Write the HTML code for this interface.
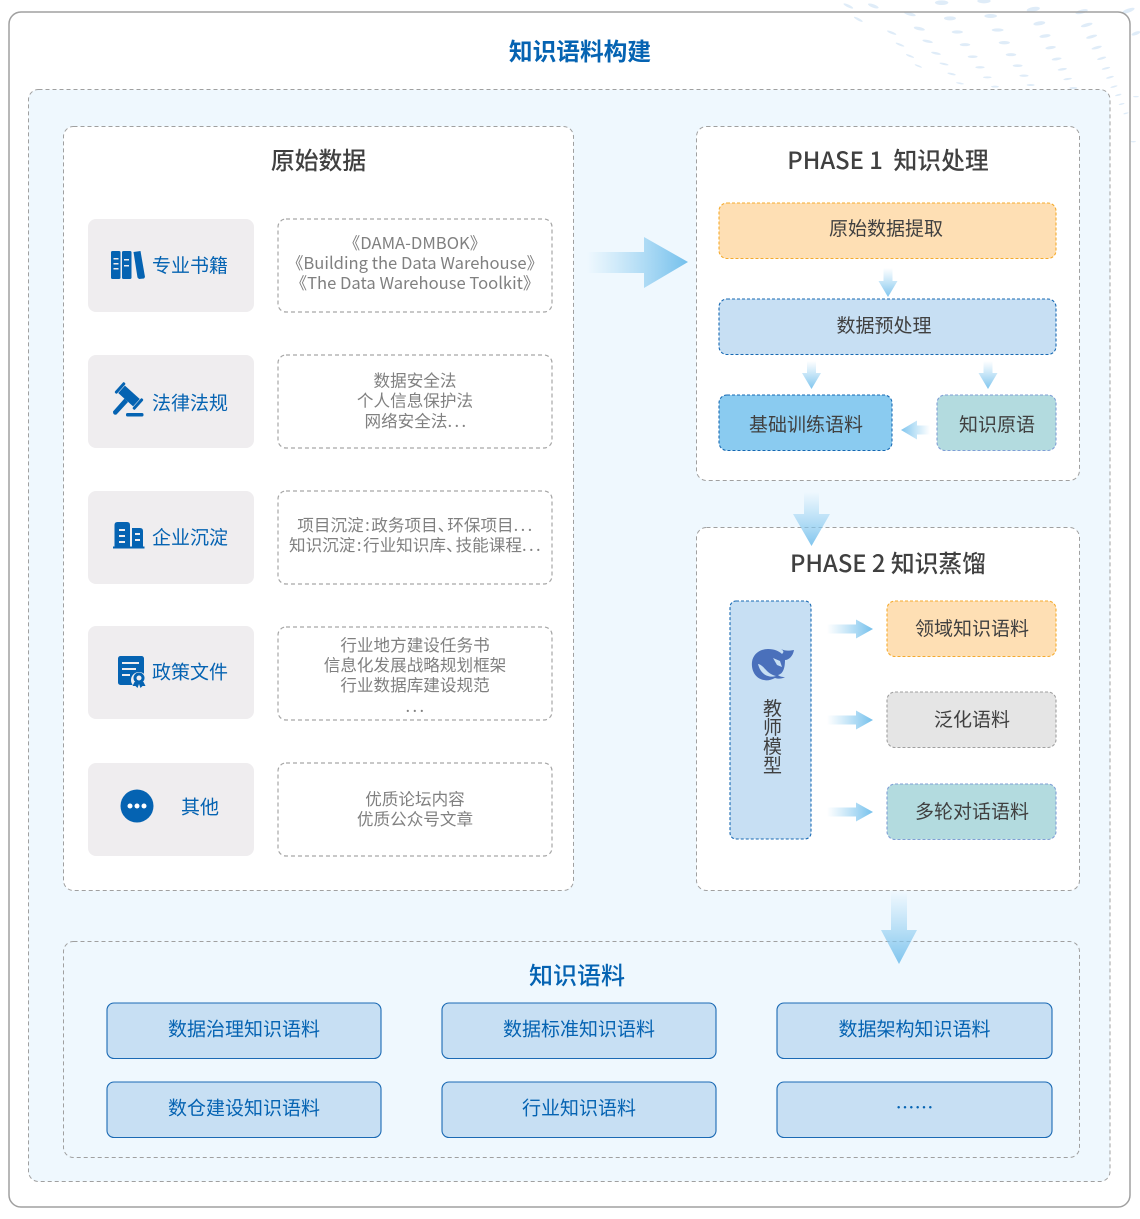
<!DOCTYPE html>
<html lang="zh"><head><meta charset="utf-8"><title>知识语料构建</title>
<style>html,body{margin:0;padding:0;background:#fff}svg{display:block}
svg text{font-family:"Noto Sans CJK SC","Liberation Sans",sans-serif;text-anchor:middle}
.t{font-size:23.8px;fill:#404040;font-weight:500}.b{font-size:19px;fill:#404040}.l{font-size:19px;fill:#0563b2}.d{font-size:16.6px;fill:#808080}
.pd{fill:#fff;stroke:#a0a0a0;stroke-width:1;stroke-dasharray:4 3}
.g{fill:#efedef}.dd{fill:#fff;stroke:#a6a6a6;stroke-width:1.2;stroke-dasharray:4 3}
.o{fill:#fedfb4;stroke:#f5ab2e;stroke-width:1.1;stroke-dasharray:3 2}
.bl{fill:#c7dff3;stroke:#1769b3;stroke-width:1.1;stroke-dasharray:3 2}
.sk{fill:#8acbf0;stroke:#1769b3;stroke-width:1.1;stroke-dasharray:3 2}
.te{fill:#b3dbdf;stroke:#7f9fd6;stroke-width:1.1;stroke-dasharray:3 2}
.gr{fill:#e5e5e5;stroke:#a0a0a0;stroke-width:1.1;stroke-dasharray:3 2}
.s{fill:#c7dff3;stroke:#1b6ab4;stroke-width:1.1}
.dot ellipse{fill:#dfecf8}
.e{letter-spacing:2.4px}
</style></head><body>
<svg width="1140" height="1219" viewBox="0 0 1140 1219" xmlns="http://www.w3.org/2000/svg">
<defs>
<linearGradient id="h" x1="0" x2="1" y1="0" y2="0"><stop offset="0" stop-color="#8acbf0" stop-opacity="0"/><stop offset="1" stop-color="#74c0ec"/></linearGradient>
<linearGradient id="hl" x1="1" x2="0" y1="0" y2="0"><stop offset="0" stop-color="#8acbf0" stop-opacity="0"/><stop offset="1" stop-color="#80c5ee"/></linearGradient>
<linearGradient id="v" x1="0" x2="0" y1="0" y2="1"><stop offset="0" stop-color="#8acbf0" stop-opacity="0"/><stop offset="1" stop-color="#80c5ee"/></linearGradient>
</defs>
<rect width="1140" height="1219" fill="#fff"/>
<g class="dot" transform="translate(760,0) scale(.3333)">
<ellipse cx="545" cy="8" rx="20" ry="7"/><ellipse cx="672" cy="3" rx="20" ry="7"/><ellipse cx="820" cy="28" rx="20" ry="7" transform="rotate(-10 820 28)"/><ellipse cx="340" cy="18" rx="17" ry="5" transform="rotate(20 340 18)"/><ellipse cx="265" cy="18" rx="16" ry="4" transform="rotate(25 265 18)"/><ellipse cx="450" cy="42" rx="18" ry="5" transform="rotate(15 450 42)"/><ellipse cx="570" cy="55" rx="18" ry="6"/><ellipse cx="692" cy="48" rx="19" ry="6"/><ellipse cx="965" cy="35" rx="19" ry="6" transform="rotate(-15 965 35)"/><ellipse cx="1105" cy="32" rx="20" ry="6" transform="rotate(-20 1105 32)"/><ellipse cx="838" cy="70" rx="18" ry="6" transform="rotate(-8 838 70)"/><ellipse cx="980" cy="75" rx="18" ry="5" transform="rotate(-15 980 75)"/><ellipse cx="1128" cy="100" rx="14" ry="5" transform="rotate(-20 1128 100)"/><ellipse cx="295" cy="58" rx="15" ry="3.5" transform="rotate(28 295 58)"/><ellipse cx="478" cy="86" rx="17" ry="5" transform="rotate(12 478 86)"/><ellipse cx="592" cy="96" rx="17" ry="5"/><ellipse cx="713" cy="90" rx="18" ry="5"/><ellipse cx="855" cy="108" rx="17" ry="5" transform="rotate(-8 855 108)"/><ellipse cx="995" cy="110" rx="17" ry="4.5" transform="rotate(-15 995 110)"/><ellipse cx="395" cy="98" rx="15" ry="3.5" transform="rotate(22 395 98)"/><ellipse cx="503" cy="124" rx="16" ry="4" transform="rotate(12 503 124)"/><ellipse cx="615" cy="134" rx="16" ry="4.5"/><ellipse cx="733" cy="128" rx="17" ry="5"/><ellipse cx="872" cy="143" rx="16" ry="4.5" transform="rotate(-8 872 143)"/><ellipse cx="1010" cy="143" rx="16" ry="4" transform="rotate(-15 1010 143)"/><ellipse cx="420" cy="134" rx="14" ry="3" transform="rotate(22 420 134)"/><ellipse cx="528" cy="160" rx="15" ry="3.5" transform="rotate(12 528 160)"/><ellipse cx="638" cy="170" rx="15" ry="4"/><ellipse cx="753" cy="164" rx="16" ry="4.5"/><ellipse cx="890" cy="177" rx="15" ry="4" transform="rotate(-8 890 177)"/><ellipse cx="1025" cy="175" rx="14" ry="3.5" transform="rotate(-15 1025 175)"/><ellipse cx="450" cy="168" rx="13" ry="3" transform="rotate(22 450 168)"/><ellipse cx="552" cy="192" rx="14" ry="3" transform="rotate(12 552 192)"/><ellipse cx="660" cy="202" rx="14" ry="3.5"/><ellipse cx="773" cy="197" rx="15" ry="4"/><ellipse cx="907" cy="208" rx="14" ry="3.5" transform="rotate(-8 907 208)"/><ellipse cx="1038" cy="205" rx="13" ry="3" transform="rotate(-15 1038 205)"/><ellipse cx="475" cy="198" rx="12" ry="2.5" transform="rotate(22 475 198)"/><ellipse cx="575" cy="222" rx="13" ry="3" transform="rotate(12 575 222)"/><ellipse cx="682" cy="232" rx="13" ry="3"/><ellipse cx="792" cy="227" rx="14" ry="3.5"/><ellipse cx="923" cy="237" rx="13" ry="3" transform="rotate(-8 923 237)"/><ellipse cx="1050" cy="232" rx="12" ry="3" transform="rotate(-15 1050 232)"/><ellipse cx="600" cy="250" rx="12" ry="2.5" transform="rotate(10 600 250)"/><ellipse cx="705" cy="260" rx="12" ry="3"/><ellipse cx="812" cy="255" rx="12" ry="3"/><ellipse cx="940" cy="264" rx="12" ry="3"/><ellipse cx="1062" cy="260" rx="11" ry="2.5" transform="rotate(-15 1062 260)"/><ellipse cx="1075" cy="285" rx="10" ry="2.5" transform="rotate(-15 1075 285)"/><ellipse cx="1085" cy="312" rx="9" ry="2.2" transform="rotate(-15 1085 312)"/><ellipse cx="1098" cy="340" rx="8" ry="2" transform="rotate(-15 1098 340)"/><ellipse cx="1120" cy="425" rx="8" ry="2"/><ellipse cx="1128" cy="290" rx="9" ry="2.2"/>
</g>
<rect x="9" y="12" width="1121" height="1195" rx="12" fill="none" stroke="#a0a0a0" stroke-width="1.5"/>
<rect x="28.500" y="89.500" width="1081.500" height="1092" rx="10" fill="#eff8fe" stroke="#a0a0a0" stroke-dasharray="4 3"/>
<text x="580" y="60" font-size="23.7" font-weight="700" fill="#0563b2">知识语料构建</text>

<rect class="pd" x="63.500" y="126.500" width="510" height="764" rx="10"/>
<rect class="pd" x="696.500" y="126.500" width="383" height="354" rx="10"/>
<rect class="pd" x="696.500" y="527.500" width="383" height="363" rx="10"/>
<rect x="63.500" y="941.500" width="1016" height="216" rx="10" fill="#eff8fe" stroke="#a0a0a0" stroke-dasharray="4 3"/>

<text class="t" x="318.500" y="169">原始数据</text>
<text class="t" x="888" y="169" xml:space="preserve">PHASE 1  知识处理</text>
<text class="t" x="888" y="572">PHASE 2 知识蒸馏</text>
<text x="577" y="984" font-size="24" font-weight="500" fill="#0563b2">知识语料</text>

<!-- left rows -->
<rect class="g" x="88" y="219" width="166" height="93" rx="8"/><rect class="dd" x="278" y="219" width="274" height="93" rx="8"/>
<rect class="g" x="88" y="355" width="166" height="93" rx="8"/><rect class="dd" x="278" y="355" width="274" height="93" rx="8"/>
<rect class="g" x="88" y="491" width="166" height="93" rx="8"/><rect class="dd" x="278" y="491" width="274" height="93" rx="8"/>
<rect class="g" x="88" y="626" width="166" height="93" rx="8"/><rect class="dd" x="278" y="627" width="274" height="93" rx="8"/>
<rect class="g" x="88" y="763" width="166" height="93" rx="8"/><rect class="dd" x="278" y="763" width="274" height="93" rx="8"/>

<text class="l" x="190" y="272">专业书籍</text>
<text class="l" x="190" y="409.500">法律法规</text>
<text class="l" x="190" y="544">企业沉淀</text>
<text class="l" x="190" y="678.500">政策文件</text>
<text class="l" x="200" y="813.500">其他</text>

<text class="d" x="415" y="249">《DAMA-DMBOK》</text>
<text class="d" x="415" y="269">《Building the Data Warehouse》</text>
<text class="d" x="415" y="289">《The Data Warehouse Toolkit》</text>
<text class="d" x="415" y="386.500">数据安全法</text>
<text class="d" x="415" y="406.500">个人信息保护法</text>
<text class="d" x="416.500" y="427">网络安全法<tspan class="e">...</tspan></text>
<text class="d" x="416" y="531">项目沉淀<tspan dx="1.5">:</tspan><tspan dx="1.5">政务项目</tspan>、<tspan dx="-7">环保项目</tspan><tspan class="e">...</tspan></text>
<text class="d" x="416" y="551">知识沉淀<tspan dx="1.5">:</tspan><tspan dx="1.5">行业知识库</tspan>、<tspan dx="-7">技能课程</tspan><tspan class="e">...</tspan></text>
<text class="d" x="415" y="651">行业地方建设任务书</text>
<text class="d" x="415" y="671">信息化发展战略规划框架</text>
<text class="d" x="415" y="691">行业数据库建设规范</text>
<text class="d e" x="416" y="712">...</text>
<text class="d" x="415" y="805">优质论坛内容</text>
<text class="d" x="415" y="825">优质公众号文章</text>

<!-- icons -->
<g fill="#0563b2">
<rect x="111" y="251" width="9.500" height="28" rx="1.500"/><rect x="122" y="251" width="9.500" height="28" rx="1.500"/><path d="M133.500 252l7-1 4.500 26-1 1.500-5 .5-1.500-1.500z"/>
<g fill="#efedef"><rect x="113.500" y="258" width="5" height="1.500"/><rect x="113.500" y="263" width="5" height="1.500"/><rect x="113.500" y="268" width="5" height="1.500"/><rect x="124" y="259" width="5" height="1.500"/><rect x="124" y="265" width="5" height="1.500"/></g>
<g transform="rotate(42 129 396)"><rect x="119" y="391" width="20" height="10"/><rect x="115.500" y="389" width="3" height="14" rx="1.200"/><rect x="139.500" y="389" width="3" height="14" rx="1.200"/></g>
<path d="M124.500 398.500l3.500 3.500-11.500 12.500q-3.500 1-3.500-3z"/><rect x="126" y="413" width="17.500" height="3.500" rx="1.500"/>
<path d="M114.500 547V525q0-3 3-3h9.500q3 0 3 3v22zM132 547V528h8q3 0 3 3V547z"/><rect x="113" y="546.500" width="31.500" height="2"/>
<g fill="#efedef"><rect x="119" y="529" width="6" height="2"/><rect x="119" y="535" width="6" height="2"/><rect x="119" y="541" width="6" height="2"/><rect x="135" y="533" width="5" height="2"/><rect x="135" y="539" width="5" height="2"/></g>
<rect x="118" y="656" width="26" height="29" rx="2.500"/>
<g fill="#efedef"><rect x="122" y="662" width="17" height="2"/><rect x="122" y="668" width="14" height="2"/><rect x="122" y="674" width="8" height="2"/><circle cx="139" cy="680" r="8"/></g>
<circle cx="139" cy="678" r="5.500"/><circle cx="139" cy="678" r="2.500" fill="#efedef"/><path d="M134.500 682l-2 4 3 0 2 2 1.500-4 1.500 4 2-2 3 0-2-4z"/>
<circle cx="137" cy="806" r="16.500"/>
<g fill="#fff"><circle cx="130" cy="806" r="2.500"/><circle cx="137" cy="806" r="2.500"/><circle cx="144" cy="806" r="2.500"/></g>
</g>

<!-- phase1 boxes -->
<rect class="o" x="719" y="203" width="337" height="55.500" rx="8"/>
<rect class="bl" x="719" y="299" width="337" height="55.500" rx="8"/>
<rect class="sk" x="719" y="395" width="173" height="55.500" rx="8"/>
<rect class="te" x="937" y="395" width="119" height="55.500" rx="8"/>
<text class="b" x="886" y="235">原始数据提取</text>
<text class="b" x="884" y="332">数据预处理</text>
<text class="b" x="806" y="431">基础训练语料</text>
<text class="b" x="997" y="431">知识原语</text>

<!-- phase2 -->
<rect class="bl" x="730" y="601" width="81" height="238" rx="6"/>
<rect class="o" x="887" y="601" width="169" height="55.500" rx="8"/>
<rect class="gr" x="887" y="692" width="169" height="55.500" rx="8"/>
<rect class="te" x="887" y="784" width="169" height="55.500" rx="8"/>
<text class="b" x="972" y="635">领域知识语料</text>
<text class="b" x="972" y="726">泛化语料</text>
<text class="b" x="972" y="818">多轮对话语料</text>
<text class="b" x="772.500" y="715">教</text><text class="b" x="772.500" y="734">师</text><text class="b" x="772.500" y="753">模</text><text class="b" x="772.500" y="772">型</text>
<path fill="#4a70bb" d="M752 662C753 654 760 649 768 649C774 649 779 651 782 654C784 652 784 651 781 649C785 651 788 651 794 650C793 656 789 660 785 660C785 668 783 674 778 675C780 677 783 677 785 677C782 679 778 679 775 678C771 680 767 681 764 680C756 679 751 671 752 662Z"/>
<path fill="#c7dff3" d="M758 664C761 664 764 668 767 671C769 673 772 675 776 676C770 678 761 676 758 664ZM773 658L780 661L782 667L777 665Z"/>

<!-- bottom boxes -->
<g>
<rect class="s" x="107" y="1003" width="274" height="55.500" rx="7"/><rect class="s" x="442" y="1003" width="274" height="55.500" rx="7"/><rect class="s" x="777" y="1003" width="275" height="55.500" rx="7"/>
<rect class="s" x="107" y="1082" width="274" height="55.500" rx="7"/><rect class="s" x="442" y="1082" width="274" height="55.500" rx="7"/><rect class="s" x="777" y="1082" width="275" height="55.500" rx="7"/>
</g>
<g fill="#0563b2" font-size="19">
<text x="244" y="1035.500">数据治理知识语料</text><text x="579" y="1035.500">数据标准知识语料</text><text x="914.500" y="1035.500">数据架构知识语料</text>
<text x="244" y="1114.500">数仓建设知识语料</text><text x="579" y="1114.500">行业知识语料</text><text x="914.500" y="1114.500">……</text>
</g>

<!-- arrows -->
<path fill="url(#h)" d="M587 252H644V237L688 262 644 288V273H587z"/>
<path fill="url(#v)" d="M883.500 268h9v13h5l-9.500 16-9.500-16h5z"/>
<path fill="url(#v)" d="M807 361h9v12h5l-9.500 16-9.500-16h5z"/>
<path fill="url(#v)" d="M983.500 361h9v12h5l-9.500 16-9.500-16h5z"/>
<path fill="url(#hl)" d="M930 425.500v9h-13v5l-16-9.500 16-9.500v5z"/>
<path fill="url(#v)" d="M804 492h15v22h11l-18.500 32-18.500-32h11z"/>
<path fill="url(#v)" d="M891 892h16v38h10l-18 34-18-34h10z"/>
<path fill="url(#h)" d="M827 624.500h29v-5l17 9.500-17 9.500v-5h-29z"/>
<path fill="url(#h)" d="M827 715.500h29v-5l17 9.500-17 9.500v-5h-29z"/>
<path fill="url(#h)" d="M827 807.500h29v-5l17 9.500-17 9.500v-5h-29z"/>
</svg>
</body></html>
